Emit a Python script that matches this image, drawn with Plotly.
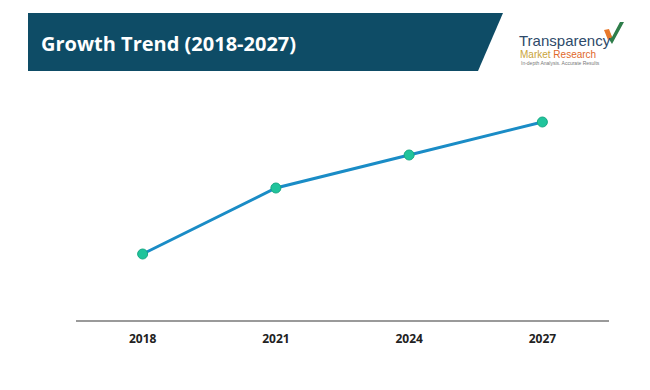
import plotly.graph_objects as go

years = ["2018", "2021", "2024", "2027"]
values = [2.0, 4.0, 5.0, 6.0]
title_text = "Growth Trend (2018-2027)"

W, H = 650, 390
ML, MR, MT, MB = 76, 41, 100, 70
PW, PH = W - ML - MR, H - MT - MB

def px(x):
    return (x - ML) / PW

def py(y):
    return (H - MB - y) / PH

fig = go.Figure()
fig.add_trace(go.Scatter(
    x=years, y=values, mode="lines+markers",
    line=dict(color="#1a8cc6", width=3),
    marker=dict(color="#20c49c", size=10, line=dict(color="#17a884", width=1)),
    hoverinfo="skip", showlegend=False,
))

# banner
banner = f"M {px(28)},{py(13)} L {px(503)},{py(13)} L {px(478)},{py(71)} L {px(28)},{py(71)} Z"
shapes = [dict(type="path", xref="paper", yref="paper", path=banner,
               fillcolor="#0e4c66", line=dict(width=0), layer="above")]
# checkmark logo
check = (f"M {px(607)},{py(36)} L {px(612)},{py(44)} L {px(624)},{py(22)} "
         f"L {px(620)},{py(22)} L {px(612)},{py(37)} L {px(610)},{py(33)} Z")
shapes.append(dict(type="path", xref="paper", yref="paper", path=check,
                   fillcolor="#2e7d4a", line=dict(width=0)))
shapes.append(dict(type="path", xref="paper", yref="paper",
                   path=f"M {px(604)},{py(30)} L {px(609)},{py(29)} L {px(612)},{py(37)} L {px(608)},{py(40)} Z",
                   fillcolor="#e8782a", line=dict(width=0)))

annotations = [
    dict(text=f"<b>{title_text}</b>", xref="paper", yref="paper", x=px(39), y=py(43),
         xanchor="left", yanchor="middle", showarrow=False,
         font=dict(family="Open Sans", size=20, color="white")),
    dict(text="Transparency", xref="paper", yref="paper", x=px(517), y=py(40),
         xanchor="left", yanchor="middle", showarrow=False,
         font=dict(family="Liberation Sans", size=15, color="#2e4a6a")),
    dict(text="<span style='color:#c9a43a'>Market</span> <span style='color:#e0682a'>Research</span>",
         xref="paper", yref="paper", x=px(518), y=py(54),
         xanchor="left", yanchor="middle", showarrow=False,
         font=dict(family="Liberation Sans", size=10)),
    dict(text="In-depth Analysis. Accurate Results", xref="paper", yref="paper", x=px(519), y=py(63),
         xanchor="left", yanchor="middle", showarrow=False,
         font=dict(family="Liberation Sans", size=5, color="#777777")),
]

fig.update_layout(
    width=W, height=H,
    margin=dict(l=ML, r=MR, t=MT, b=MB, pad=0),
    paper_bgcolor="white", plot_bgcolor="white",
    shapes=shapes, annotations=annotations,
    xaxis=dict(type="category", range=[-0.5, 3.5], showgrid=False, zeroline=False,
               showline=True, linecolor="#9a9a9a", linewidth=1.5,
               ticks="", ticklabelstandoff=7,
               tickfont=dict(family="Open Sans", size=12, color="#222222", weight="bold"),
               fixedrange=True),
    yaxis=dict(range=[0, PH / 33.0], visible=False, fixedrange=True),
)

fig.write_html("out.html", config={"displayModeBar": False},
               post_script="document.body.style.margin='0';document.body.style.padding='0';")
